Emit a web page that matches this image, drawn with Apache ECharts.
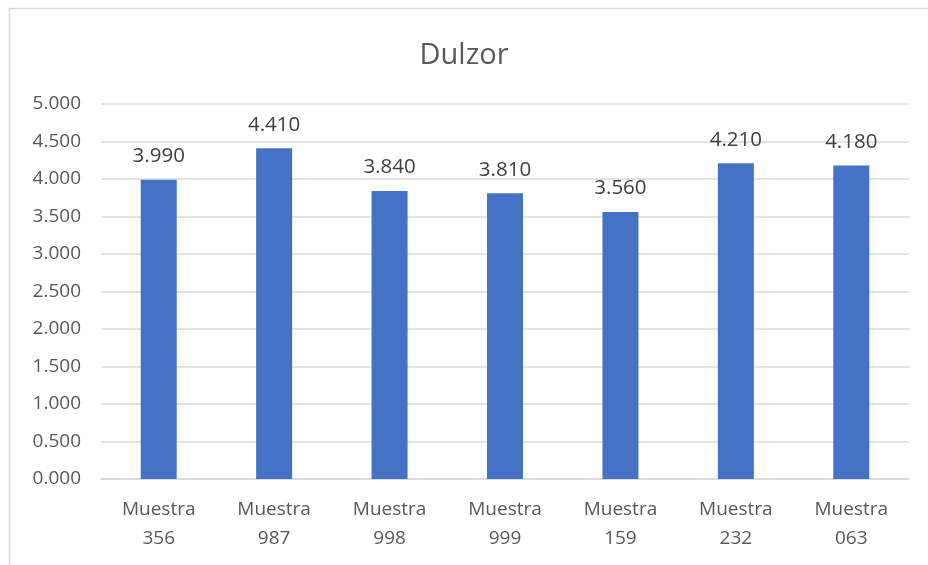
<!DOCTYPE html>
<html>
<head>
<meta charset="utf-8">
<script src="https://cdn.jsdelivr.net/npm/echarts@6/dist/echarts.min.js"></script>
<style>html,body{margin:0;padding:0;background:#fff;}#c{width:928px;height:565px;}</style>
</head>
<body>
<div id="c"></div>
<script>
var categories = ['Muestra\n356', 'Muestra\n987', 'Muestra\n998', 'Muestra\n999', 'Muestra\n159', 'Muestra\n232', 'Muestra\n063'];
var values = [3.99, 4.41, 3.84, 3.81, 3.56, 4.21, 4.18];
var titleText = 'Dulzor';

var chart = echarts.init(document.getElementById('c'));
var font = '"Open Sans", "Noto Sans", sans-serif';
chart.setOption({
  animation: false,
  backgroundColor: '#fff',
  graphic: [{
    type: 'rect',
    shape: { x: 9.5, y: 8.5, width: 1000, height: 1000 },
    style: { fill: 'none', stroke: '#d9d9d9', lineWidth: 1.5 },
    silent: true
  }],
  title: {
    text: titleText,
    left: 'center',
    top: 36,
    textStyle: { fontFamily: font, fontSize: 29, fontWeight: 'normal', color: '#595959' }
  },
  grid: { left: 101, right: 19, top: 104, bottom: 86 },
  xAxis: {
    type: 'category',
    data: categories,
    axisLine: { show: true, lineStyle: { color: '#d9d9d9', width: 1.5 } },
    axisTick: { show: false },
    axisLabel: { fontFamily: font, fontSize: 19, color: '#595959', margin: 16, lineHeight: 29 }
  },
  yAxis: {
    type: 'value',
    min: 0, max: 5, interval: 0.5,
    axisLine: { show: false },
    axisTick: { show: false },
    splitLine: { lineStyle: { color: '#d9d9d9', width: 1.5 } },
    axisLabel: {
      fontFamily: font, fontSize: 19, color: '#595959', margin: 20,
      formatter: function (v) { return v.toFixed(3); }
    }
  },
  series: [{
    type: 'bar',
    data: values,
    barWidth: 36,
    itemStyle: { color: '#4472c4' },
    label: {
      show: true, position: 'top', distance: 13,
      fontFamily: font, fontSize: 20.5, color: '#404040',
      formatter: function (p) { return p.value.toFixed(3); }
    }
  }]
});
</script>
</body>
</html>
